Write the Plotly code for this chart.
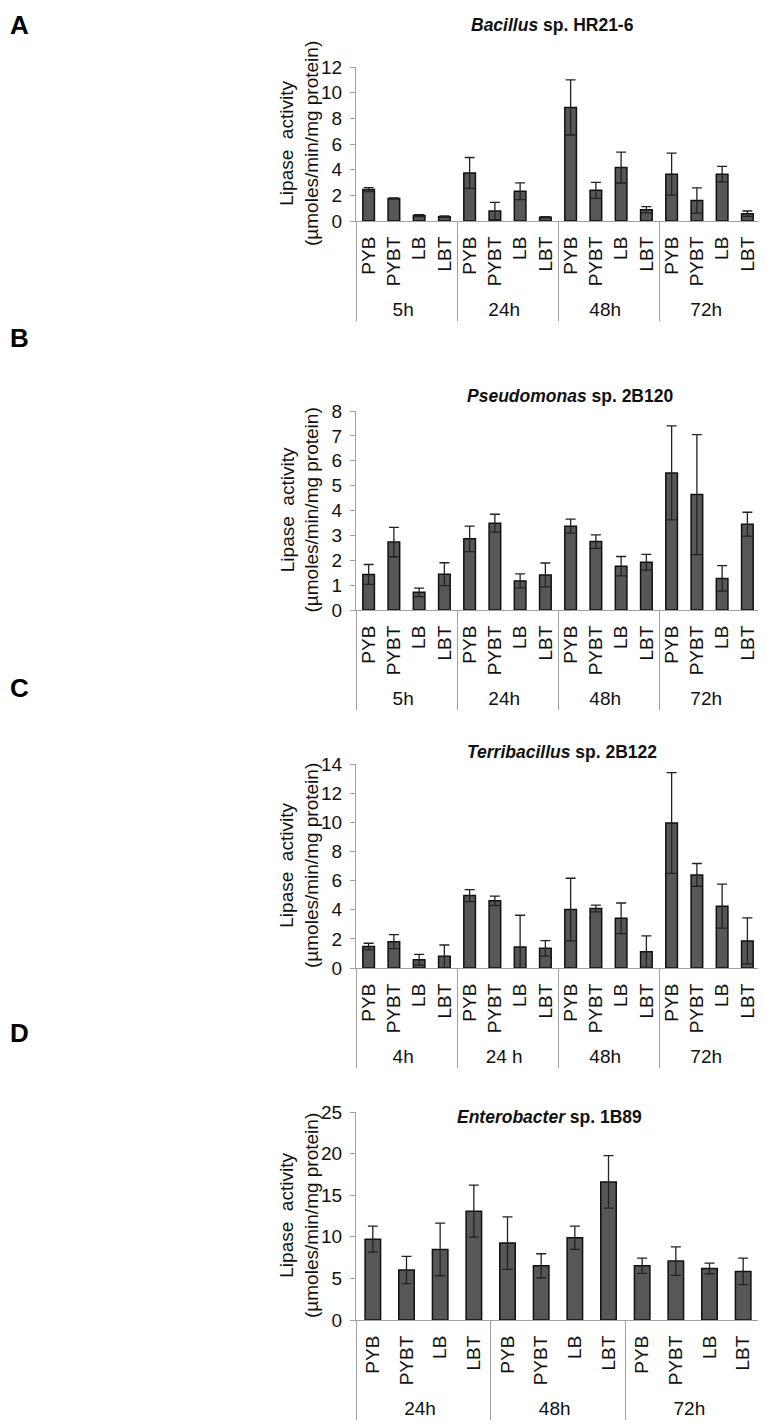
import plotly.graph_objects as go

# The page body adds an 8px offset; the figure fills the rest of the window.
OFF = 8
W, H = 766 - OFF, 1423 - OFF

media = ["PYB", "PYBT", "LB", "LBT"]

# Panel A - Bacillus sp. HR21-6
a_times = ["5h", "24h", "48h", "72h"]
a_vals = [2.45, 1.75, 0.42, 0.34, 3.75, 0.78, 2.32, 0.29, 8.85, 2.39, 4.16, 0.88, 3.65, 1.6, 3.65, 0.57]
a_err = [0.15, 0.05, 0.08, 0.05, 1.2, 0.67, 0.65, 0.05, 2.15, 0.62, 1.2, 0.24, 1.64, 0.98, 0.6, 0.21]

# Panel B - Pseudomonas sp. 2B120
b_times = ["5h", "24h", "48h", "72h"]
b_vals = [1.43, 2.73, 0.71, 1.44, 2.86, 3.49, 1.17, 1.41, 3.37, 2.75, 1.76, 1.92, 5.51, 4.64, 1.27, 3.45]
b_err = [0.4, 0.59, 0.17, 0.46, 0.51, 0.36, 0.28, 0.48, 0.28, 0.27, 0.39, 0.32, 1.89, 2.41, 0.51, 0.48]

# Panel C - Terribacillus sp. 2B122
c_times = ["4h", "24 h", "48h", "72h"]
c_vals = [1.47, 1.81, 0.57, 0.8, 4.97, 4.61, 1.44, 1.35, 4.01, 4.08, 3.41, 1.12, 9.95, 6.39, 4.24, 1.86]
c_err = [0.23, 0.48, 0.37, 0.78, 0.41, 0.32, 2.18, 0.53, 2.15, 0.23, 1.05, 1.08, 3.46, 0.78, 1.51, 1.58]

# Panel D - Enterobacter sp. 1B89
d_times = ["24h", "48h", "72h"]
d_vals = [9.72, 6.0, 8.48, 13.08, 9.24, 6.52, 9.88, 16.6, 6.52, 7.08, 6.2, 5.84]
d_err = [1.56, 1.64, 3.16, 3.12, 3.16, 1.44, 1.4, 3.16, 0.92, 1.72, 0.64, 1.6]

titles = ["<b><i>Bacillus</i> sp. HR21-6</b>",
          "<b><i>Pseudomonas</i> sp. 2B120</b>",
          "<b><i>Terribacillus</i> sp. 2B122</b>",
          "<b><i>Enterobacter</i> sp. 1B89</b>"]
letters = ["A", "B", "C", "D"]
y_max = [12, 8, 14, 25]
y_dtick = [2, 1, 2, 5]

panels = [(a_times, a_vals, a_err), (b_times, b_vals, b_err),
          (c_times, c_vals, c_err), (d_times, d_vals, d_err)]

# layout positions (page pixels)
y0_px = [221, 610, 968, 1320]
ytop_px = [67, 411, 764, 1112]
title_px = [(552, 25), (570, 396), (562, 752), (549, 1117)]
letter_py = [19, 338, 688, 1033]
xl, xr = 356, 760


def fx(px):
    return (px - OFF) / W


def fy(py):
    return 1 - (py - OFF) / H


FONT = "Liberation Sans, Arial, sans-serif"
AX = "#a0a0a0"

fig = go.Figure()
annotations = []
layout = dict(width=W, height=H, autosize=False,
              margin=dict(l=0, r=0, t=0, b=0, pad=0),
              paper_bgcolor="white", plot_bgcolor="white", showlegend=False,
              font=dict(family=FONT, size=18, color="#111"),
              bargap=0.54)

for i, (times, vals, errs) in enumerate(panels):
    n = i + 1
    xs = "x" if n == 1 else f"x{n}"
    ys = "y" if n == 1 else f"y{n}"
    groups = [t for t in times for _ in media]
    cats = [m for _ in times for m in media]
    fig.add_trace(go.Bar(
        x=[groups, cats], y=vals, xaxis=xs, yaxis=ys,
        marker=dict(color="#575757", line=dict(color="#111111", width=1.5)),
        error_y=dict(type="data", array=errs, visible=True,
                     color="#222222", thickness=1.3, width=5),
        hoverinfo="skip"))
    xkey = "xaxis" if n == 1 else f"xaxis{n}"
    ykey = "yaxis" if n == 1 else f"yaxis{n}"
    layout[xkey] = dict(
        domain=[fx(xl), fx(xr)], anchor=ys, type="multicategory",
        automargin=False, ticklabelstandoff=7,
        showline=True, linecolor=AX, linewidth=1.2,
        ticks="", tickangle=-90, showgrid=False, zeroline=False,
        showdividers=True, dividercolor=AX, dividerwidth=1.2,
        tickfont=dict(size=19, color="#111"))
    layout[ykey] = dict(
        domain=[fy(y0_px[i]), fy(ytop_px[i])], anchor=xs,
        automargin=False, ticklabelstandoff=4,
        range=[0, y_max[i]], dtick=y_dtick[i], tick0=0,
        showline=True, linecolor=AX, linewidth=1.2,
        ticks="outside", ticklen=5, tickcolor=AX, tickwidth=1.2,
        showgrid=False, zeroline=False,
        tickfont=dict(size=19, color="#111"))
    # title
    annotations.append(dict(text=titles[i], x=fx(title_px[i][0]), y=fy(title_px[i][1]),
                            xref="paper", yref="paper", showarrow=False,
                            xanchor="center", yanchor="middle",
                            font=dict(size=17.5, color="#111")))
    # panel letter
    if i == 0:
        annotations.append(dict(text=f"<b>{letters[i]}</b>", x=0, y=1,
                                xref="paper", yref="paper", showarrow=False,
                                xanchor="left", yanchor="top",
                                font=dict(size=26, color="#000")))
    else:
        annotations.append(dict(text=f"<b>{letters[i]}</b>", x=0, y=fy(letter_py[i]),
                                xref="paper", yref="paper", showarrow=False,
                                xanchor="left", yanchor="middle",
                                font=dict(size=26, color="#000")))
    # y-axis title
    yc = (y0_px[i] + ytop_px[i]) / 2
    annotations.append(dict(text="Lipase  activity<br>(µmoles/min/mg protein)",
                            x=fx(299), y=fy(yc), xref="paper", yref="paper",
                            showarrow=False, textangle=-90,
                            xanchor="center", yanchor="middle",
                            font=dict(size=19, color="#111")))

layout["annotations"] = annotations
fig.update_layout(**layout)
fig.write_html("out.html")
